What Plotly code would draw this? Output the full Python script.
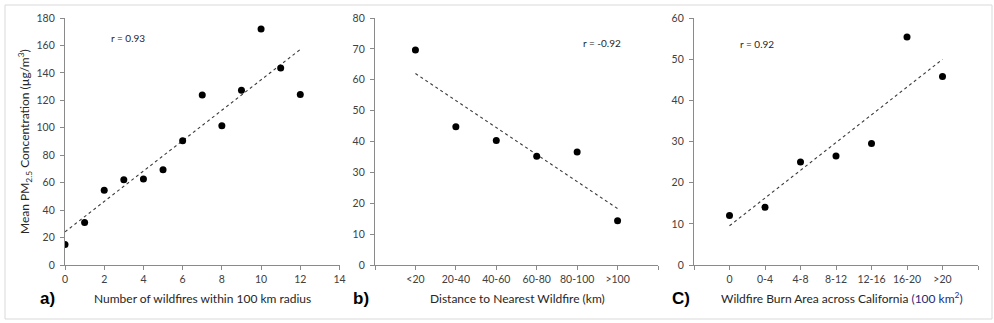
import numpy as np
import plotly.graph_objects as go

W, H = 994, 323

# ---- data ----
a_x = [0, 1, 2, 3, 4, 5, 6, 7, 8, 9, 10, 11, 12]
a_y = [15, 31, 54.4, 62.2, 62.7, 69.5, 90.6, 123.9, 101.5, 127.3, 172, 143.6, 124.3]

b_cats = ["<20", "20-40", "40-60", "60-80", "80-100", ">100"]
b_y = [69.6, 44.8, 40.3, 35.2, 36.6, 14.3]

c_cats = ["0", "0-4", "4-8", "8-12", "12-16", "16-20", ">20"]
c_y = [12.0, 14.0, 25.0, 26.5, 29.5, 55.4, 45.8]

r_labels = ["r = 0.93", "r = -0.92", "r = 0.92"]


def px(x):
    return x / W


def py(y):
    return 1 - y / H


fig = go.Figure()

axis_color = "#8a8a8a"
tick_font = dict(family="Lato, Open Sans, sans-serif", size=10.5, color="#404040")


def add_panel(i, xs, ys, xaxis_kw, yaxis_kw, xdom, ydom):
    xa = "x" if i == 1 else f"x{i}"
    ya = "y" if i == 1 else f"y{i}"
    coef = np.polyfit(xs, ys, 1)
    tx = [min(xs), max(xs)]
    ty = [coef[0] * t + coef[1] for t in tx]
    fig.add_trace(go.Scatter(x=tx, y=ty, mode="lines", xaxis=xa, yaxis=ya,
                             line=dict(color="#3a3a3a", width=1.1, dash="dot"),
                             showlegend=False, hoverinfo="skip"))
    fig.add_trace(go.Scatter(x=xs, y=ys, mode="markers", xaxis=xa, yaxis=ya,
                             marker=dict(color="black", size=7),
                             showlegend=False))
    base = dict(showgrid=False, zeroline=False, showline=True, linecolor=axis_color,
                linewidth=1.3, ticks="outside", ticklen=4, tickcolor=axis_color,
                tickfont=tick_font, automargin=False)
    xk = dict(base, domain=xdom, anchor=ya, **xaxis_kw)
    yk = dict(base, domain=ydom, anchor=xa, ticklabelstandoff=3, **yaxis_kw)
    fig.layout["xaxis" if i == 1 else f"xaxis{i}"] = xk
    fig.layout["yaxis" if i == 1 else f"yaxis{i}"] = yk


ydom = [py(265), py(18)]

# panel a
add_panel(1, a_x, a_y,
          dict(range=[0, 14], tickvals=list(range(0, 15, 2))),
          dict(range=[0, 180], tickvals=list(range(0, 181, 20))),
          [px(65), px(339.5)], ydom)

# panel b
bx = list(range(len(b_cats)))
add_panel(2, bx, b_y,
          dict(range=[-1, 6], tickvals=bx, ticktext=b_cats,
               minor=dict(tickvals=[-1, 6], ticks="outside", ticklen=4, tickcolor=axis_color)),
          dict(range=[0, 80], tickvals=list(range(0, 81, 10))),
          [px(375), px(658)], ydom)

# panel c
cx = list(range(len(c_cats)))
add_panel(3, cx, c_y,
          dict(range=[-1, 7], tickvals=cx, ticktext=c_cats,
               minor=dict(tickvals=[-1, 7], ticks="outside", ticklen=4, tickcolor=axis_color)),
          dict(range=[0, 60], tickvals=list(range(0, 61, 10))),
          [px(694), px(978)], ydom)

txt_font = dict(family="Lato, Open Sans, sans-serif", size=12, color="#262626")
small_font = dict(family="Lato, Open Sans, sans-serif", size=10, color="#262626")
lab_font = dict(family="Arial, Liberation Sans, sans-serif", size=17, color="black")

anns = [
    # r values
    dict(x=px(128), y=py(38), text=r_labels[0], font=small_font),
    dict(x=px(602), y=py(43), text=r_labels[1], font=small_font),
    dict(x=px(757), y=py(44), text=r_labels[2], font=small_font),
    # panel letters
    dict(x=px(47), y=py(298), text="<b>a)</b>", font=lab_font),
    dict(x=px(361), y=py(298), text="<b>b)</b>", font=lab_font),
    dict(x=px(681), y=py(298), text="<b>C)</b>", font=lab_font),
    # x titles
    dict(x=px(202), y=py(298), text="Number of wildfires within 100 km radius", font=txt_font),
    dict(x=px(517), y=py(298), text="Distance to Nearest Wildfire (km)", font=txt_font),
    dict(x=px(842), y=py(298),
         text="Wildfire Burn Area across California <span style='color:#1f2a78'>(100 km<sup>2</sup>)</span>",
         font=txt_font),
    # y title
    dict(x=px(25), y=py(142), text="Mean PM<sub>2.5</sub> Concentration (µg/m<sup>3</sup>)",
         textangle=-90, font=txt_font),
]
for a in anns:
    a.update(xref="paper", yref="paper", showarrow=False, xanchor="center", yanchor="middle")
fig.update_layout(annotations=anns)

fig.add_shape(type="rect", xref="paper", yref="paper",
              x0=px(5), x1=px(992), y0=py(319), y1=py(5),
              line=dict(color="#d9d9d9", width=1), fillcolor="rgba(0,0,0,0)")

fig.update_layout(width=W, height=H, margin=dict(l=0, r=0, t=0, b=0),
                  paper_bgcolor="white", plot_bgcolor="white",
                  font=dict(family="Lato, Open Sans, sans-serif"))

fig.write_html("out.html", config={"displayModeBar": False},
               post_script="document.body.style.margin='0';document.body.style.overflow='hidden';")
